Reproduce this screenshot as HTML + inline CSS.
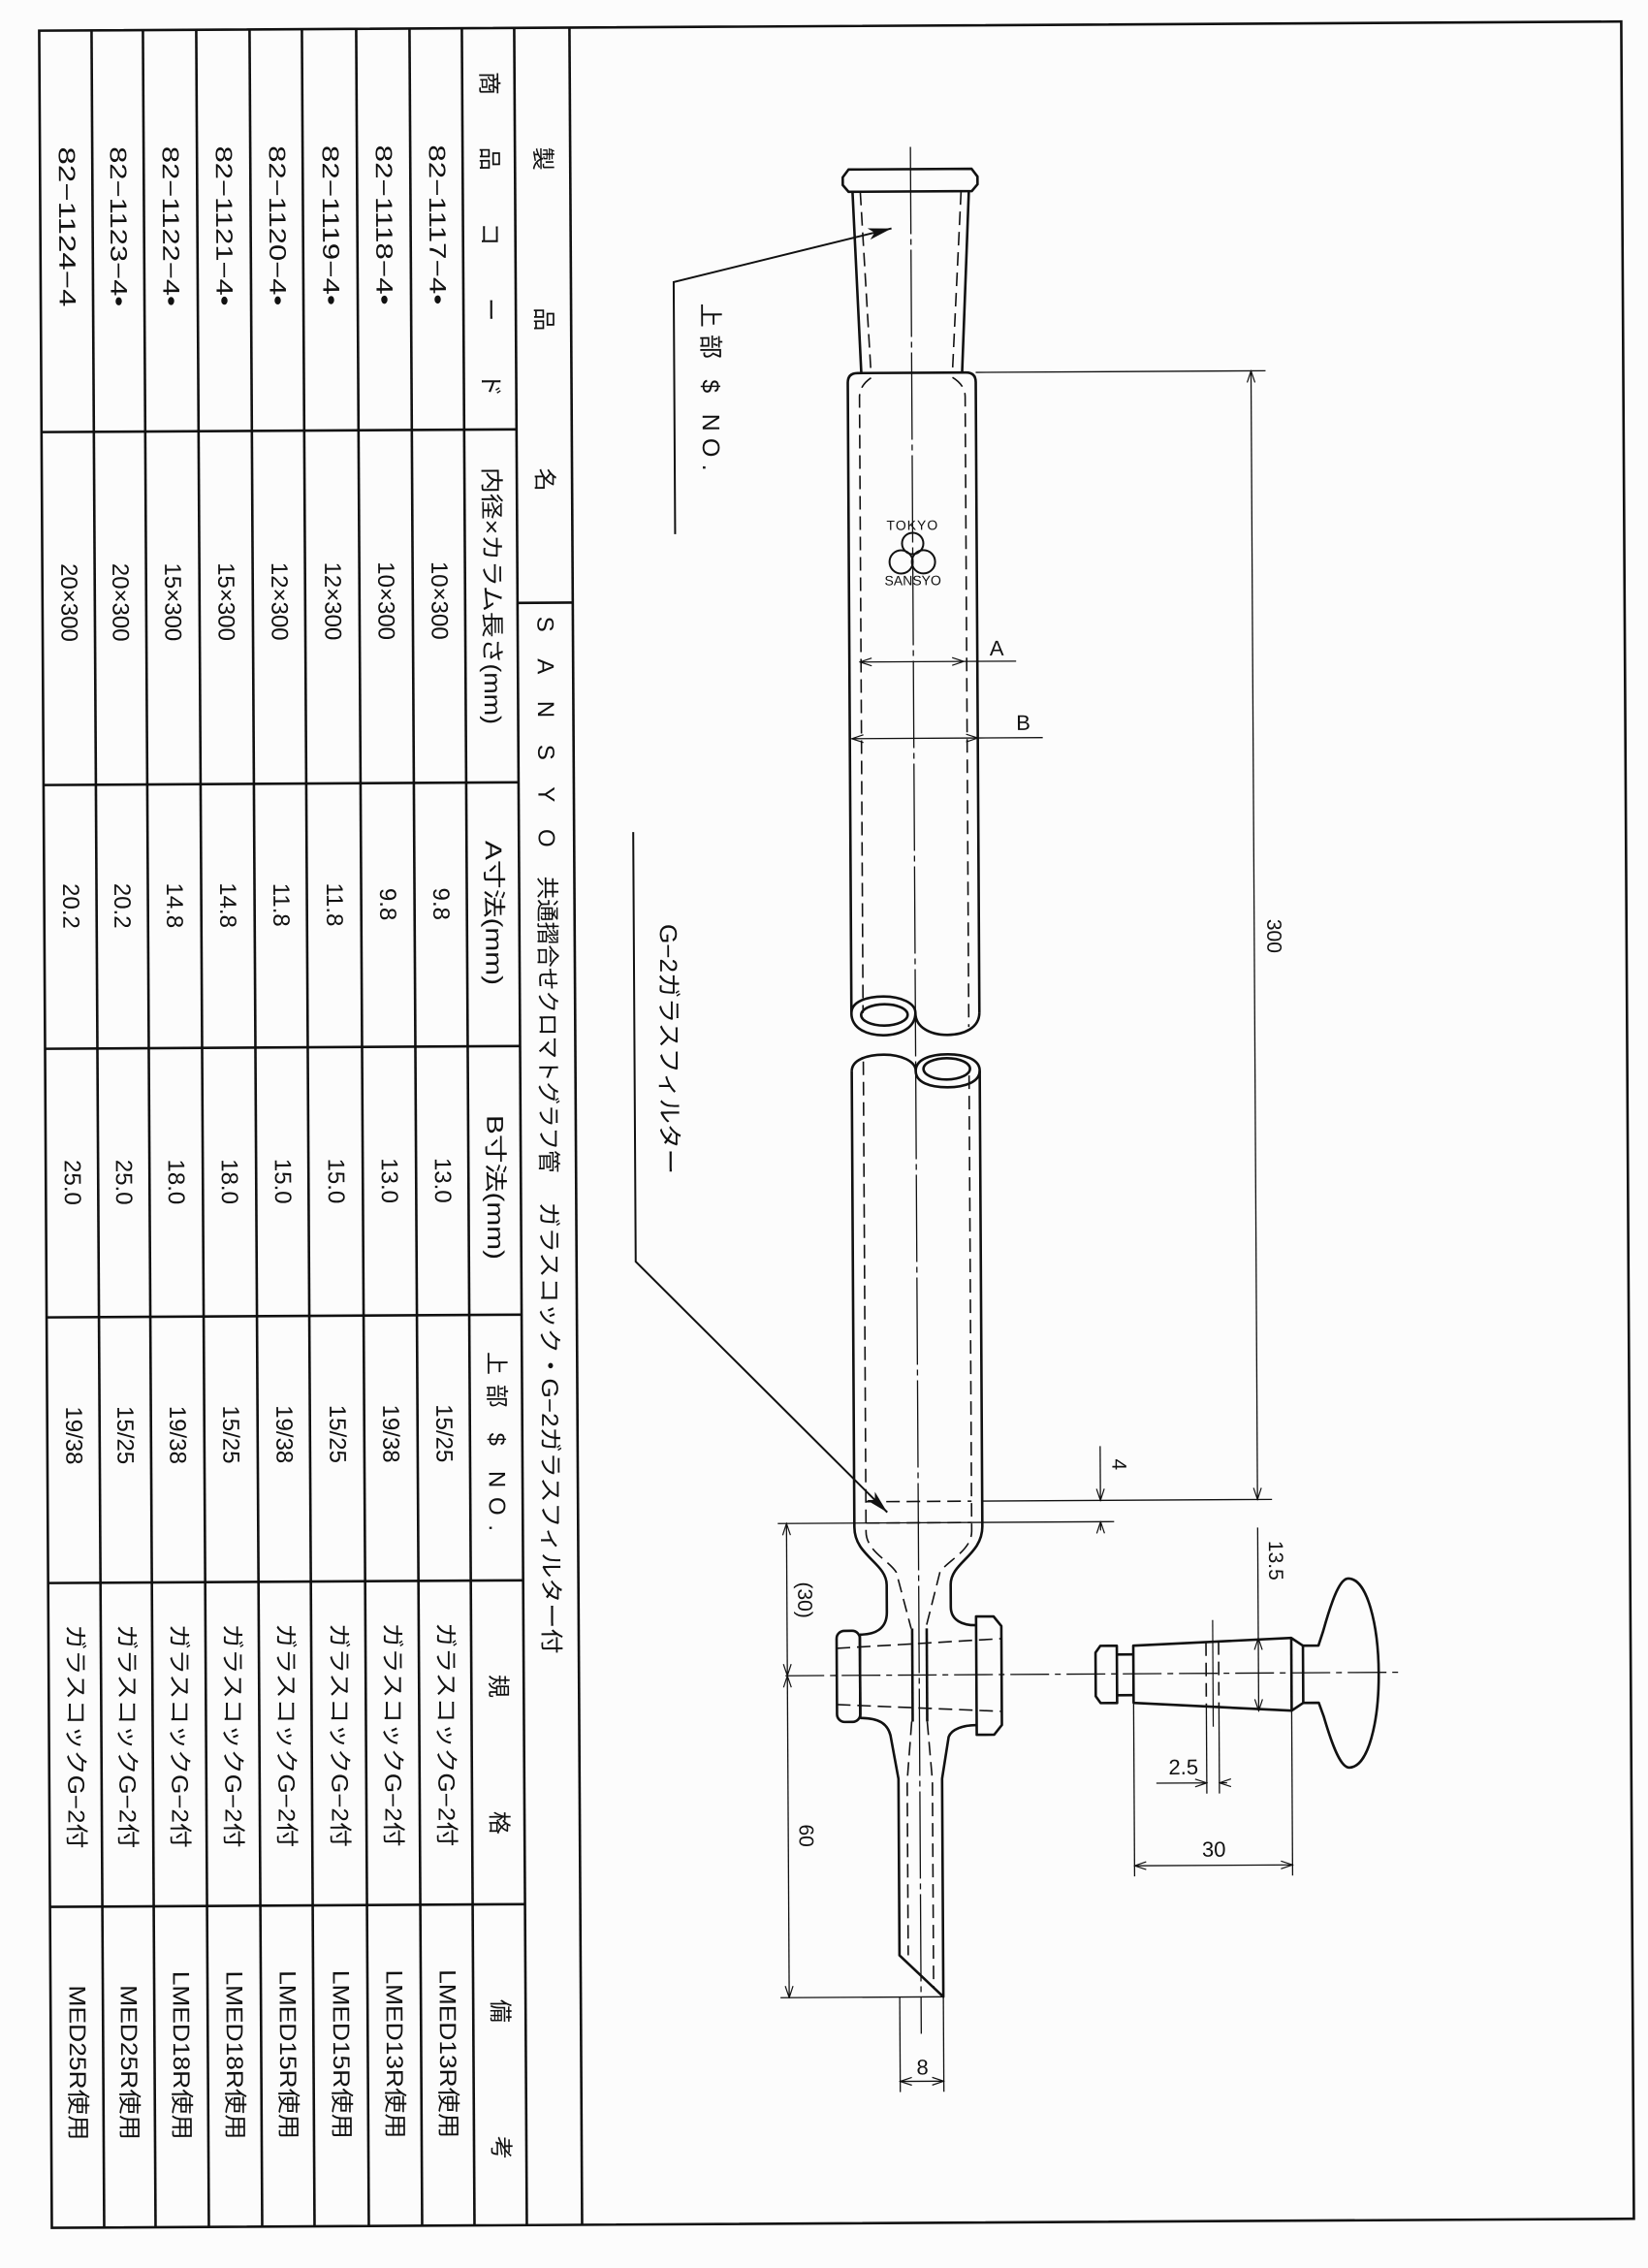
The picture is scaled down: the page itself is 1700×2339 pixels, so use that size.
<!DOCTYPE html>
<html><head><meta charset="utf-8"><style>
html,body{margin:0;padding:0;background:#fcfcfc;}
svg{display:block;}
text{font-family:"Liberation Sans","Noto Sans CJK JP",sans-serif;fill:#111;}
</style></head><body>
<svg width="1700" height="2339" viewBox="0 0 1700 2339" xmlns="http://www.w3.org/2000/svg">
<defs>
<marker id="v" viewBox="-13 -5 14 10" refX="0" refY="0" markerWidth="14" markerHeight="10" orient="auto-start-reverse" markerUnits="userSpaceOnUse"><path d="M-12,-4 L0,0 L-12,4" fill="none" stroke="#111" stroke-width="1.2"/></marker>
<marker id="f" viewBox="-24 -7 25 14" refX="0" refY="0" markerWidth="25" markerHeight="14" orient="auto" markerUnits="userSpaceOnUse"><path d="M-24,-6 L0,0 L-24,6 L-18,0 Z" fill="#111"/></marker>
</defs>
<g transform="rotate(-0.33 850 1170)">
<!-- frame & table -->
<g stroke="#111" stroke-width="2.6" fill="none">
<rect x="47" y="27" width="1632" height="2266"/>
<line x1="101" y1="27" x2="101" y2="2293"/>
<line x1="154" y1="27" x2="154" y2="2293"/>
<line x1="209" y1="27" x2="209" y2="2293"/>
<line x1="264" y1="27" x2="264" y2="2293"/>
<line x1="318" y1="27" x2="318" y2="2293"/>
<line x1="374" y1="27" x2="374" y2="2293"/>
<line x1="429" y1="27" x2="429" y2="2293"/>
<line x1="483" y1="27" x2="483" y2="2293"/>
<line x1="537" y1="27" x2="537" y2="2293"/>
<line x1="594" y1="27" x2="594" y2="2293"/>
<line x1="537" y1="620" x2="594" y2="620"/>
<line x1="47" y1="441" x2="537" y2="441"/>
<line x1="47" y1="805" x2="537" y2="805"/>
<line x1="47" y1="1077" x2="537" y2="1077"/>
<line x1="47" y1="1354" x2="537" y2="1354"/>
<line x1="47" y1="1628" x2="537" y2="1628"/>
<line x1="47" y1="1962" x2="537" y2="1962"/>
</g>
<g font-size="24" dominant-baseline="central">
<!-- title column -->
<text transform="translate(565,150) rotate(90)" textLength="355" lengthAdjust="spacing">製品名</text>
<text transform="translate(565,634) rotate(90)" textLength="238" lengthAdjust="spacing">SANSYO</text>
<text transform="translate(565,902) rotate(90)" textLength="306" lengthAdjust="spacingAndGlyphs">共通摺合せクロマトグラフ管</text>
<text transform="translate(565,1238) rotate(90)" textLength="466" lengthAdjust="spacingAndGlyphs">ガラスコック・G−2ガラスフィルター付</text>
<!-- header column -->
<text transform="translate(510,72) rotate(90)" textLength="335" lengthAdjust="spacing">商品コード</text>
<text transform="translate(510,480) rotate(90)" textLength="265" lengthAdjust="spacingAndGlyphs">内径×カラム長さ(mm)</text>
<text transform="translate(510,865) rotate(90)" textLength="149" lengthAdjust="spacingAndGlyphs">A寸法(mm)</text>
<text transform="translate(510,1148) rotate(90)" textLength="149" lengthAdjust="spacingAndGlyphs">B寸法(mm)</text>
<text transform="translate(510,1392) rotate(90)" textLength="185" lengthAdjust="spacing">上部 $ NO.</text>
<text transform="translate(510,1725) rotate(90)" textLength="165" lengthAdjust="spacing">規格</text>
<text transform="translate(510,2060) rotate(90)" textLength="165" lengthAdjust="spacing">備考</text>
</g>
<g font-size="24" dominant-baseline="central">
<!-- rows: x centers -->
<g transform="translate(456,0)">
<text transform="translate(0,147) rotate(90)" textLength="165" lengthAdjust="spacingAndGlyphs">82−1117−4•</text>
<text transform="translate(0,617) rotate(90)" text-anchor="middle">10×300</text>
<text transform="translate(0,930) rotate(90)" text-anchor="middle">9.8</text>
<text transform="translate(0,1215) rotate(90)" text-anchor="middle">13.0</text>
<text transform="translate(0,1476) rotate(90)" text-anchor="middle">15/25</text>
<text transform="translate(0,1671) rotate(90)" textLength="231" lengthAdjust="spacingAndGlyphs">ガラスコックG−2付</text>
<text transform="translate(0,2029) rotate(90)" textLength="174" lengthAdjust="spacingAndGlyphs">LMED13R使用</text>
</g>
<g transform="translate(401,0)">
<text transform="translate(0,147) rotate(90)" textLength="165" lengthAdjust="spacingAndGlyphs">82−1118−4•</text>
<text transform="translate(0,617) rotate(90)" text-anchor="middle">10×300</text>
<text transform="translate(0,930) rotate(90)" text-anchor="middle">9.8</text>
<text transform="translate(0,1215) rotate(90)" text-anchor="middle">13.0</text>
<text transform="translate(0,1476) rotate(90)" text-anchor="middle">19/38</text>
<text transform="translate(0,1671) rotate(90)" textLength="231" lengthAdjust="spacingAndGlyphs">ガラスコックG−2付</text>
<text transform="translate(0,2029) rotate(90)" textLength="174" lengthAdjust="spacingAndGlyphs">LMED13R使用</text>
</g>
<g transform="translate(346,0)">
<text transform="translate(0,147) rotate(90)" textLength="165" lengthAdjust="spacingAndGlyphs">82−1119−4•</text>
<text transform="translate(0,617) rotate(90)" text-anchor="middle">12×300</text>
<text transform="translate(0,930) rotate(90)" text-anchor="middle">11.8</text>
<text transform="translate(0,1215) rotate(90)" text-anchor="middle">15.0</text>
<text transform="translate(0,1476) rotate(90)" text-anchor="middle">15/25</text>
<text transform="translate(0,1671) rotate(90)" textLength="231" lengthAdjust="spacingAndGlyphs">ガラスコックG−2付</text>
<text transform="translate(0,2029) rotate(90)" textLength="174" lengthAdjust="spacingAndGlyphs">LMED15R使用</text>
</g>
<g transform="translate(291,0)">
<text transform="translate(0,147) rotate(90)" textLength="165" lengthAdjust="spacingAndGlyphs">82−1120−4•</text>
<text transform="translate(0,617) rotate(90)" text-anchor="middle">12×300</text>
<text transform="translate(0,930) rotate(90)" text-anchor="middle">11.8</text>
<text transform="translate(0,1215) rotate(90)" text-anchor="middle">15.0</text>
<text transform="translate(0,1476) rotate(90)" text-anchor="middle">19/38</text>
<text transform="translate(0,1671) rotate(90)" textLength="231" lengthAdjust="spacingAndGlyphs">ガラスコックG−2付</text>
<text transform="translate(0,2029) rotate(90)" textLength="174" lengthAdjust="spacingAndGlyphs">LMED15R使用</text>
</g>
<g transform="translate(236,0)">
<text transform="translate(0,147) rotate(90)" textLength="165" lengthAdjust="spacingAndGlyphs">82−1121−4•</text>
<text transform="translate(0,617) rotate(90)" text-anchor="middle">15×300</text>
<text transform="translate(0,930) rotate(90)" text-anchor="middle">14.8</text>
<text transform="translate(0,1215) rotate(90)" text-anchor="middle">18.0</text>
<text transform="translate(0,1476) rotate(90)" text-anchor="middle">15/25</text>
<text transform="translate(0,1671) rotate(90)" textLength="231" lengthAdjust="spacingAndGlyphs">ガラスコックG−2付</text>
<text transform="translate(0,2029) rotate(90)" textLength="174" lengthAdjust="spacingAndGlyphs">LMED18R使用</text>
</g>
<g transform="translate(181,0)">
<text transform="translate(0,147) rotate(90)" textLength="165" lengthAdjust="spacingAndGlyphs">82−1122−4•</text>
<text transform="translate(0,617) rotate(90)" text-anchor="middle">15×300</text>
<text transform="translate(0,930) rotate(90)" text-anchor="middle">14.8</text>
<text transform="translate(0,1215) rotate(90)" text-anchor="middle">18.0</text>
<text transform="translate(0,1476) rotate(90)" text-anchor="middle">19/38</text>
<text transform="translate(0,1671) rotate(90)" textLength="231" lengthAdjust="spacingAndGlyphs">ガラスコックG−2付</text>
<text transform="translate(0,2029) rotate(90)" textLength="174" lengthAdjust="spacingAndGlyphs">LMED18R使用</text>
</g>
<g transform="translate(127,0)">
<text transform="translate(0,147) rotate(90)" textLength="165" lengthAdjust="spacingAndGlyphs">82−1123−4•</text>
<text transform="translate(0,617) rotate(90)" text-anchor="middle">20×300</text>
<text transform="translate(0,930) rotate(90)" text-anchor="middle">20.2</text>
<text transform="translate(0,1215) rotate(90)" text-anchor="middle">25.0</text>
<text transform="translate(0,1476) rotate(90)" text-anchor="middle">15/25</text>
<text transform="translate(0,1671) rotate(90)" textLength="231" lengthAdjust="spacingAndGlyphs">ガラスコックG−2付</text>
<text transform="translate(0,2043) rotate(90)" textLength="160" lengthAdjust="spacingAndGlyphs">MED25R使用</text>
</g>
<g transform="translate(74,0)">
<text transform="translate(0,147) rotate(90)" textLength="165" lengthAdjust="spacingAndGlyphs">82−1124−4</text>
<text transform="translate(0,617) rotate(90)" text-anchor="middle">20×300</text>
<text transform="translate(0,930) rotate(90)" text-anchor="middle">20.2</text>
<text transform="translate(0,1215) rotate(90)" text-anchor="middle">25.0</text>
<text transform="translate(0,1476) rotate(90)" text-anchor="middle">19/38</text>
<text transform="translate(0,1671) rotate(90)" textLength="231" lengthAdjust="spacingAndGlyphs">ガラスコックG−2付</text>
<text transform="translate(0,2043) rotate(90)" textLength="160" lengthAdjust="spacingAndGlyphs">MED25R使用</text>
</g>
</g>

<!-- ============ DRAWING ============ -->
<!-- centerline -->
<line x1="945" y1="152" x2="945" y2="2098" stroke="#111" stroke-width="1.3" stroke-dasharray="90 5 6 5"/>
<!-- top joint -->
<g stroke="#111" stroke-width="2.6" fill="none" stroke-linejoin="round">
<path d="M881,175 L1008,175 L1014,183 L1014,191 L1008,198 L881,198 L875,191 L875,183 Z"/>
<path d="M885,198 L893,385 M1005,198 L997,385"/>
<!-- upper tube segment -->
<path d="M879,1045 L879,395 Q879,385 889,385 L1001,385 Q1011,385 1011,395 L1011,1045"/>
<path d="M879,1045 C879,1061 895,1068 912,1068 C930,1068 945,1060 945,1045 C945,1060 960,1068 978,1068 C995,1068 1011,1061 1011,1045"/>
<path d="M879,1045 C879,1033 895,1028 912,1028 C930,1028 945,1035 945,1045"/>
<ellipse cx="913" cy="1047" rx="24" ry="11"/>
<!-- lower tube segment -->
<path d="M879,1105 C879,1093 895,1088 912,1088 C930,1088 945,1095 945,1105 C945,1093 960,1088 978,1088 C995,1088 1011,1093 1011,1105"/>
<path d="M945,1105 C945,1117 960,1122 978,1122 C995,1122 1011,1117 1011,1105"/>
<ellipse cx="977" cy="1103" rx="24" ry="11"/>
<path d="M879,1105 L879,1575 C879,1605 912,1612 912,1635 L912,1663 C912,1680 900,1686 884,1686"/>
<path d="M1011,1105 L1011,1575 C1011,1605 978,1612 978,1635 L978,1658 C978,1672 990,1677 1004,1677"/>
<!-- stopcock barrel -->
<rect x="860" y="1682" width="24" height="94" rx="8"/>
<line x1="884" y1="1686" x2="884" y2="1772"/>
<path d="M1004,1668 L1022,1668 L1030,1678 L1030,1780 L1022,1790 L1004,1790 Z"/>
<path d="M884,1772 C903,1772 912,1778 915,1790 L923,1835 L923,2017 L968,2060 L968,1835 L975,1792 C978,1784 990,1780 1004,1780"/>
<line x1="938" y1="1680" x2="938" y2="1776"/>
<line x1="953" y1="1680" x2="953" y2="1776"/>
<!-- stopper -->
<path d="M1127,1706 L1132,1699 L1149,1699 L1149,1758 L1132,1758 L1127,1751 Z"/>
<path d="M1149,1708 L1166,1708 M1149,1750 L1166,1750"/>
<path d="M1166,1699 L1329,1692 L1341,1700 L1341,1759 L1329,1767 L1166,1758 Z"/>
<line x1="1329" y1="1692" x2="1329" y2="1767"/>
<path d="M1341,1700 L1357,1700 L1362,1685 C1372,1650 1380,1631 1388,1631 C1408,1631 1419,1680 1419,1729 C1419,1778 1408,1826 1388,1826 C1380,1826 1372,1808 1362,1773 L1357,1759 L1341,1759"/>
</g>
<!-- dashed inner lines -->
<g stroke="#111" stroke-width="1.6" fill="none" stroke-dasharray="14 7">
<path d="M893,198 L903,385 M997,198 L987,385"/>
<path d="M903,390 Q891,398 891,410 L891,1045"/>
<path d="M987,390 Q1000,398 1000,410 L1000,1060"/>
<path d="M891,1095 L891,1580 C891,1600 915,1610 922,1622 L937,1680"/>
<path d="M1000,1110 L1000,1580 C1000,1600 975,1610 967,1622 L952,1680"/>
<path d="M891,1549 L1000,1549 M891,1571 L1000,1571"/>
<path d="M937,1776 L932,1837 L932,2017 M953,1776 L958,1837 L958,2050"/>
<path d="M860,1700 L1030,1691 M860,1758 L1030,1766"/>
<path d="M1241,1696 L1241,1762 M1254,1695 L1254,1763"/>
</g>
<line x1="807" y1="1728" x2="1445" y2="1728" stroke="#111" stroke-width="1.3" stroke-dasharray="40 6 6 6"/>
<line x1="1248" y1="1673" x2="1248" y2="1783" stroke="#111" stroke-width="1.2"/>
<!-- logo -->
<text x="945" y="547" font-size="14" text-anchor="middle" letter-spacing="1">TOKYO</text>
<g stroke="#111" stroke-width="2" fill="none">
<circle cx="945" cy="561" r="11"/><circle cx="933" cy="580" r="12"/><circle cx="956" cy="580" r="12"/>
</g>
<text x="945" y="604" font-size="14" text-anchor="middle">SANSYO</text>
<!-- leaders -->
<g stroke="#111" stroke-width="2" fill="none">
<polyline points="700,550 700,290 925,236" marker-end="url(#f)"/>
<polyline points="655,857 655,1300 913,1560" marker-end="url(#f)"/>
</g>
<g font-size="25" dominant-baseline="central">
<text transform="translate(737,312) rotate(90)" textLength="173" lengthAdjust="spacing">上部 $ NO.</text>
<text transform="translate(690,952) rotate(90)" textLength="258" lengthAdjust="spacingAndGlyphs">G−2ガラスフィルター</text>
</g>
<!-- dimension lines -->
<g stroke="#111" stroke-width="1.3" fill="none">
<line x1="1011" y1="385" x2="1310" y2="385"/>
<line x1="1011" y1="1549" x2="1310" y2="1549"/>
<line x1="800" y1="1571" x2="1147" y2="1571"/>
<line x1="1295" y1="385" x2="1295" y2="1549" marker-start="url(#v)" marker-end="url(#v)"/>
<line x1="1133" y1="1493" x2="1133" y2="1549" marker-end="url(#v)"/>
<line x1="1133" y1="1580" x2="1133" y2="1571" marker-end="url(#v)"/>
<line x1="890" y1="683" x2="997" y2="683" marker-start="url(#v)" marker-end="url(#v)"/>
<line x1="997" y1="683" x2="1051" y2="683"/>
<line x1="881" y1="762" x2="1011" y2="762" marker-start="url(#v)" marker-end="url(#v)"/>
<line x1="1011" y1="762" x2="1078" y2="762"/>
<line x1="1295" y1="1578" x2="1295" y2="1692"/>
<line x1="1295" y1="1692" x2="1295" y2="1767" marker-start="url(#v)" marker-end="url(#v)"/>
<line x1="1241" y1="1762" x2="1241" y2="1852"/>
<line x1="1254" y1="1763" x2="1254" y2="1852"/>
<line x1="1189" y1="1841" x2="1241" y2="1841" marker-end="url(#v)"/>
<line x1="1262" y1="1841" x2="1254" y2="1841" marker-end="url(#v)"/>
<line x1="1166" y1="1758" x2="1166" y2="1937"/>
<line x1="1329" y1="1767" x2="1329" y2="1937"/>
<line x1="1166" y1="1926" x2="1329" y2="1926" marker-start="url(#v)" marker-end="url(#v)"/>
<line x1="809" y1="1571" x2="809" y2="1728" marker-start="url(#v)" marker-end="url(#v)"/>
<line x1="809" y1="1728" x2="809" y2="2060" marker-start="url(#v)" marker-end="url(#v)"/>
<line x1="800" y1="2060" x2="968" y2="2060"/>
<line x1="923" y1="2060" x2="923" y2="2158"/>
<line x1="968" y1="2060" x2="968" y2="2158"/>
<line x1="923" y1="2147" x2="968" y2="2147" marker-start="url(#v)" marker-end="url(#v)"/>
</g>
<g font-size="22">
<text x="1031" y="677" text-anchor="middle">A</text>
<text x="1058" y="754" text-anchor="middle">B</text>
<text x="1217" y="1832" text-anchor="middle">2.5</text>
<text x="1248" y="1917" text-anchor="middle">30</text>
<text x="946" y="2140" text-anchor="middle">8</text>
</g>
<g font-size="21" dominant-baseline="central">
<text transform="translate(1315,968) rotate(90)" text-anchor="middle">300</text>
<text transform="translate(1152,1512) rotate(90)" text-anchor="middle">4</text>
<text transform="translate(1313,1612) rotate(90)" text-anchor="middle">13.5</text>
<text transform="translate(827,1650) rotate(90)" text-anchor="middle">(30)</text>
<text transform="translate(827,1893) rotate(90)" text-anchor="middle">60</text>
</g>
</g>
</svg>
</body></html>
